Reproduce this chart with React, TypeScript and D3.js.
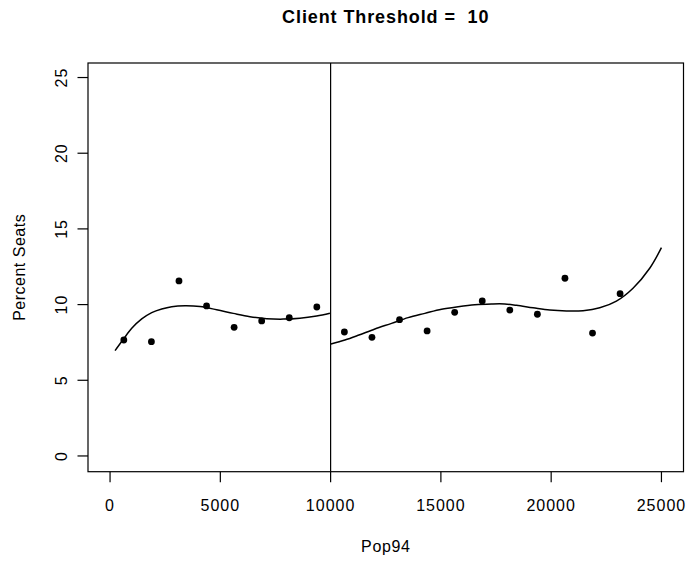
import React from "react";
import * as d3 from "d3";

const title = "Client Threshold =  10";
const xLabel = "Pop94";
const yLabel = "Percent Seats";
const xTicks = [0, 5000, 10000, 15000, 20000, 25000];
const yTicks = [0, 5, 10, 15, 20, 25];
const threshold = 10000;

const popX = [625, 1875, 3125, 4375, 5625, 6875, 8125, 9375, 10625, 11875, 13125, 14375, 15625, 16875, 18125, 19375, 20625, 21875, 23125];
const seatPct = [7.66, 7.55, 11.56, 9.91, 8.5, 8.92, 9.13, 9.84, 8.19, 7.84, 9.0, 8.26, 9.49, 10.24, 9.64, 9.36, 11.74, 8.12, 10.72];

const leftFitX = [227, 603, 983, 1436, 1889, 2343, 2796, 3398, 4078, 4835, 5587, 6343, 7100, 7852, 8609, 9366, 9968];
const leftFitY = [6.96, 7.71, 8.43, 9.05, 9.47, 9.71, 9.86, 9.92, 9.87, 9.66, 9.42, 9.2, 9.07, 9.04, 9.1, 9.25, 9.43];

const rightFitX = [10014, 10648, 11251, 12007, 12764, 13516, 14273, 15029, 15782, 16538, 17295, 17898, 18428, 19180, 19937, 20693, 21445, 22202, 22958, 23711, 24468, 25000];
const rightFitY = [7.4, 7.66, 7.97, 8.39, 8.76, 9.14, 9.42, 9.69, 9.86, 9.99, 10.04, 10.04, 9.95, 9.79, 9.64, 9.58, 9.6, 9.79, 10.23, 11.08, 12.4, 13.76];

export default function App() {
  const W = 689, H = 563;
  const left = 88, right = 683.5, top = 63, bottom = 471.7;
  const x = d3.scaleLinear().domain([-1000, 26000]).range([left, right]);
  const y = d3.scaleLinear().domain([-1.04, 25.96]).range([bottom, top]);
  const line = d3.line<[number, number]>().x(d => x(d[0])).y(d => y(d[1])).curve(d3.curveCatmullRom);
  const leftPts = leftFitX.map((v, i) => [v, leftFitY[i]] as [number, number]);
  const rightPts = rightFitX.map((v, i) => [v, rightFitY[i]] as [number, number]);
  const font = "'Liberation Sans', Arial, Helvetica, sans-serif";
  return (
    <svg width={W} height={H} style={{ position: "absolute", left: 0, top: 0, background: "#fff" }} fontFamily={font}>
      <rect x={0} y={0} width={W} height={H} fill="#fff" />
      <text x={(left + right) / 2} y={23.3} textAnchor="middle" fontWeight="bold" fontSize={18} letterSpacing={0.9} style={{ whiteSpace: "pre" }}>{title}</text>
      <rect x={left} y={top} width={right - left} height={bottom - top} fill="none" stroke="#000" strokeWidth={1.2} />
      {xTicks.map(t => (
        <g key={"x" + t}>
          <line x1={x(t)} x2={x(t)} y1={bottom} y2={bottom + 10.5} stroke="#000" strokeWidth={1.2} />
          <text x={x(t)} y={510.7} textAnchor="middle" fontSize={16} letterSpacing={1}>{t}</text>
        </g>
      ))}
      {yTicks.map(t => (
        <g key={"y" + t}>
          <line x1={left - 10.5} x2={left} y1={y(t)} y2={y(t)} stroke="#000" strokeWidth={1.2} />
          <text transform={`translate(67,${y(t)}) rotate(-90)`} textAnchor="middle" fontSize={16} letterSpacing={1}>{t}</text>
        </g>
      ))}
      <text x={(left + right) / 2} y={551.7} textAnchor="middle" fontSize={16} letterSpacing={0.6}>{xLabel}</text>
      <text transform={`translate(25,${(top + bottom) / 2}) rotate(-90)`} textAnchor="middle" fontSize={16} letterSpacing={0.5}>{yLabel}</text>
      <line x1={x(threshold)} x2={x(threshold)} y1={top} y2={bottom} stroke="#000" strokeWidth={1.2} />
      <path d={line(leftPts) || ""} fill="none" stroke="#000" strokeWidth={1.5} />
      <path d={line(rightPts) || ""} fill="none" stroke="#000" strokeWidth={1.5} />
      {popX.map((v, i) => (
        <circle key={"p" + i} cx={x(v)} cy={y(seatPct[i])} r={3.4} fill="#000" />
      ))}
    </svg>
  );
}
